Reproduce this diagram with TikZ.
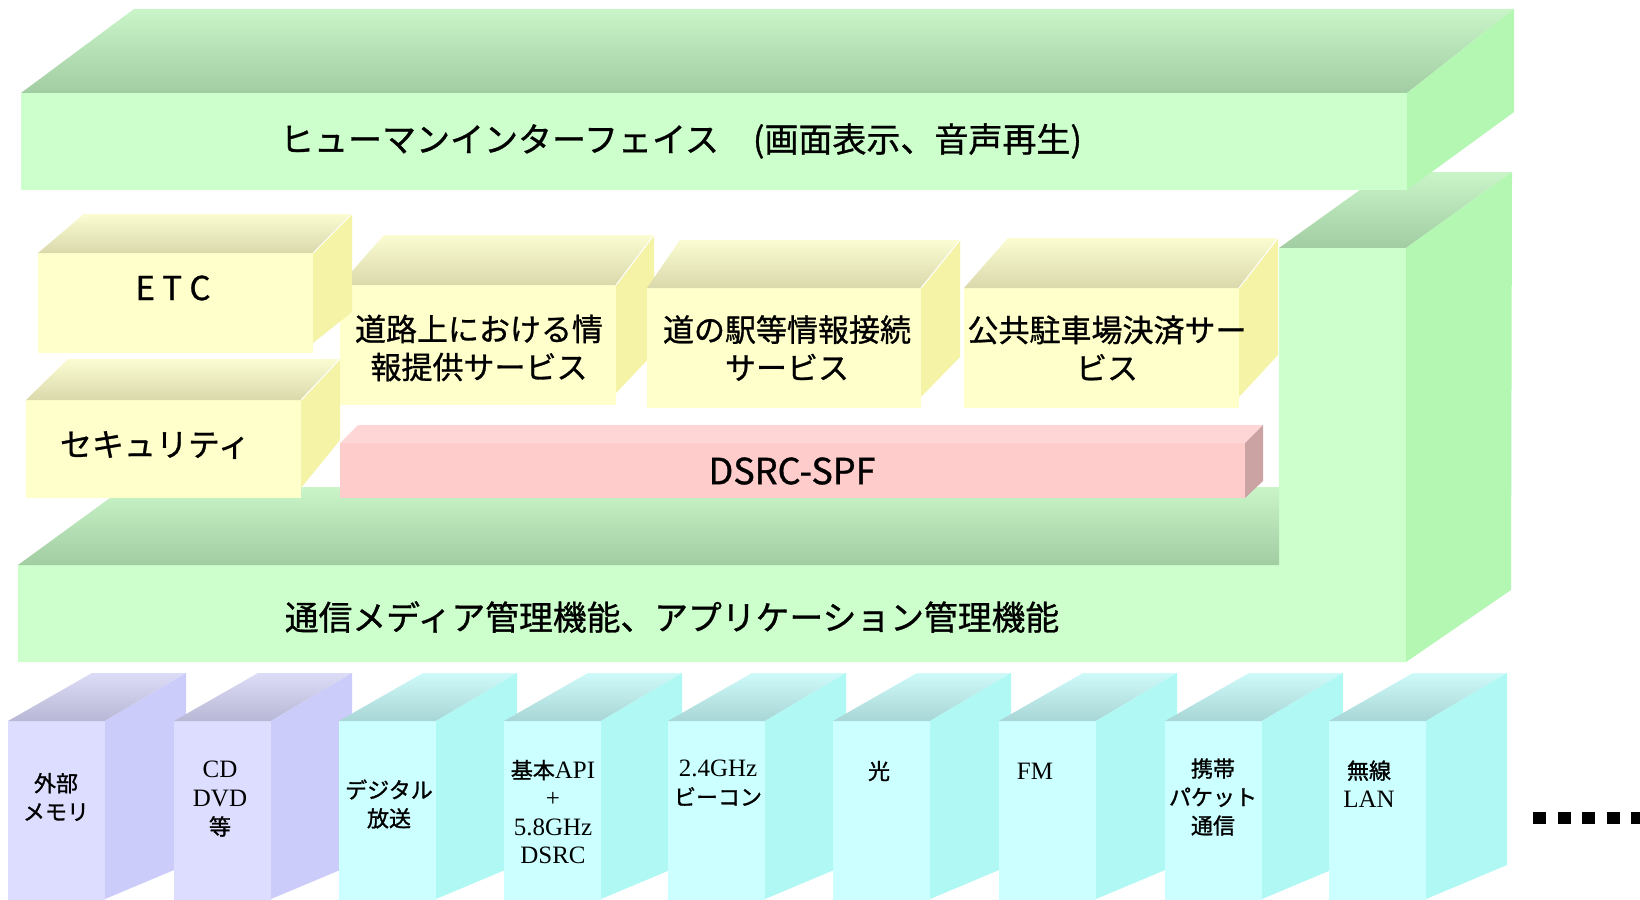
\documentclass[tikz,border=0pt]{standalone}
\usepackage{fontspec}
\newfontfamily\jp{Noto Sans CJK JP}[FakeBold=0.9]
\newfontfamily\jpb{Noto Sans CJK JP}[FakeBold=1.2]
\newfontfamily\tms{Liberation Serif}
\definecolor{gF}{HTML}{CCFFCC}
\definecolor{gS}{HTML}{B3F7B3}
\definecolor{gTF}{HTML}{A2CCA2}
\definecolor{gTB}{HTML}{C9F5C9}
\definecolor{yF}{HTML}{FFFFCC}
\definecolor{yS}{HTML}{F5F3A6}
\definecolor{yTF}{HTML}{D9D9AC}
\definecolor{yTB}{HTML}{FCFCD2}
\definecolor{pF}{HTML}{FFCCCC}
\definecolor{pT}{HTML}{FFD6D6}
\definecolor{pS}{HTML}{CCA3A3}
\definecolor{lF}{HTML}{DDDDFF}
\definecolor{lS}{HTML}{CCCCFA}
\definecolor{lTF}{HTML}{B8B8D6}
\definecolor{lTB}{HTML}{DCDCF7}
\definecolor{cF}{HTML}{CCFFFF}
\definecolor{cS}{HTML}{B0F8F4}
\definecolor{cTF}{HTML}{A8D5D5}
\definecolor{cTB}{HTML}{CFFAFA}
\tikzset{
  gfront/.style={fill=gF}, gside/.style={fill=gS}, gtop/.style={top color=gTB, bottom color=gTF},
  yfront/.style={fill=yF}, yside/.style={fill=yS}, ytop/.style={top color=yTB, bottom color=yTF},
  pfront/.style={fill=pF}, pside/.style={fill=pS}, ptop/.style={fill=pT},
  Lfront/.style={fill=lF}, Lside/.style={fill=lS}, Ltop/.style={top color=lTB, bottom color=lTF},
  Cfront/.style={fill=cF}, Cside/.style={fill=cS}, Ctop/.style={top color=cTB, bottom color=cTF},
  edgehl/.style={white, line width=1pt},
  bigtext/.style={inner sep=0pt, font=\jp\fontsize{34}{40}\selectfont},
  boxtext/.style={inner sep=0pt, align=center, font=\jp\fontsize{31}{38}\selectfont},
  medtext/.style={inner sep=0pt, align=center, font=\jpb\fontsize{22}{28.5}\selectfont},
  dots/.style={line width=12pt, dash pattern=on 13pt off 11.5pt}
}
% #1 x, #2 palette
\newcommand{\mediacol}[2]{%
  \fill[#2front] (#1,721) rectangle ++(97,180);
  \shade[#2top] (#1,721) -- ++(97,0) -- ++(81,-48) -- ++(-94,0) -- cycle;
  \fill[#2side] (#1+97,721) -- (#1+178,673) -- (#1+178,865) -- (#1+97,899) -- cycle;
}
\newcommand{\lat}{\tms\fontsize{25}{28.5}\selectfont}
\begin{document}
\begin{tikzpicture}[x=1pt,y=-1pt]
\useasboundingbox (0,0) rectangle (1640,899);
\clip (0,0) rectangle (1640,899);
\fill[white] (0,0) rectangle (1640,899);

% ---- lower L-shaped slab ----
\shade[gtop] (1279,248) -- (1406,248) -- (1512,172) -- (1385,172) -- cycle;
\fill[gfront] (18,565) -- (1279,565) -- (1279,248) -- (1406,248) -- (1406,662) -- (18,662) -- cycle;
\fill[gside] (1406,248) -- (1512,172) -- (1511,590) -- (1406,662) -- cycle;
\shade[gtop] (18,565) -- (1279,565) -- (1279,487) -- (125,487) -- cycle;

% ---- top slab ----
\shade[gtop] (21,93) -- (1407,93) -- (1514,9) -- (134,9) -- cycle;
\fill[gfront] (21,93) rectangle (1407,190);
\fill[gside] (1407,93) -- (1514,9) -- (1514,112) -- (1407,190) -- cycle;

% ---- yellow boxes ----
% road info
\fill[yfront] (340,285) rectangle (616,405);
\shade[ytop] (340,285) -- (616,285) -- (654,235) -- (384,235) -- cycle;
\fill[yside] (616,285) -- (654,235) -- (654,353) -- (616,393) -- cycle;
\draw[edgehl] (616,285) -- (654,235);
% ETC
\fill[yfront] (38,253) rectangle (313,353);
\shade[ytop] (38,253) -- (313,253) -- (352,214) -- (84,214) -- cycle;
\fill[yside] (313,253) -- (352,214) -- (352,312) -- (313,343) -- cycle;
\draw[edgehl] (313,253) -- (352,214);
% michi-no-eki
\fill[yfront] (647,288) rectangle (921,408);
\shade[ytop] (647,288) -- (921,288) -- (960,240) -- (680,240) -- cycle;
\fill[yside] (921,288) -- (960,240) -- (960,357) -- (921,397) -- cycle;
\draw[edgehl] (921,288) -- (960,240);
% parking
\fill[yfront] (964,288) rectangle (1239,408);
\shade[ytop] (964,288) -- (1239,288) -- (1278,238) -- (1008,238) -- cycle;
\fill[yside] (1239,288) -- (1278,238) -- (1278,355) -- (1239,397) -- cycle;
\draw[edgehl] (1239,288) -- (1278,238);
% security
\fill[yfront] (26,400) rectangle (301,498);
\shade[ytop] (26,400) -- (301,400) -- (340,359) -- (68,359) -- cycle;
\fill[yside] (301,400) -- (340,359) -- (340,440) -- (301,488) -- cycle;
\draw[edgehl] (301,400) -- (340,359);

% ---- DSRC-SPF ----
\fill[pfront] (340,443) rectangle (1245,498);
\fill[ptop] (340,443) -- (1245,443) -- (1263,425) -- (358,425) -- cycle;
\fill[pside] (1245,443) -- (1263,425) -- (1263,481) -- (1245,498) -- cycle;

% ---- media columns ----
\mediacol{8}{L}
\mediacol{174}{L}
\mediacol{339}{C}
\mediacol{504}{C}
\mediacol{668}{C}
\mediacol{833}{C}
\mediacol{999}{C}
\mediacol{1165}{C}
\mediacol{1329}{C}

% ---- texts ----
\node[bigtext] (hmi) at (681,141) {ヒューマンインターフェイス　(画面表示、音声再生)};
\node[bigtext, font=\jp\fontsize{33.8}{40}\selectfont] (mgmt) at (672,617) {通信メディア管理機能、アプリケーション管理機能};
\node[boxtext, font=\jp\fontsize{33}{38}\selectfont] (etc) at (173,288) {E T C};
\node[boxtext, font=\jp\fontsize{32}{38}\selectfont] (sec) at (155,445) {セキュリティ};
\node[boxtext] (road) at (479,348) {道路上における情\\報提供サービス};
\node[boxtext] (eki) at (787,348) {道の駅等情報接続\\サービス};
\node[boxtext] (park) at (1107,348) {公共駐車場決済サー\\ビス};
\node[boxtext, font=\jp\fontsize{36}{40}\selectfont] (spf) at (792,471) {DSRC-SPF};

\node[medtext] (m1) at (56,797) {外部\\メモリ};
\node[medtext] (m2) at (220,799) {{\lat CD}\\{\lat DVD}\\等};
\node[medtext] (m3) at (389,804) {デジタル\\放送};
\node[medtext] (m4) at (553,812) {基本{\lat API}\\{\lat +}\\{\lat 5.8GHz}\\{\lat DSRC}};
\node[medtext] (m5) at (718,783) {{\lat 2.4GHz}\\ビーコン};
\node[medtext] (m6) at (879,771) {光};
\node[medtext, font=\lat] (m7) at (1035,771) {FM};
\node[medtext] (m8) at (1213,797) {携帯\\パケット\\通信};
\node[medtext] (m9) at (1369,784) {無線\\{\lat LAN}};

% ---- continuation mark ----
\coordinate (d1) at (1533,818);
\coordinate (d2) at (1646,818);
\draw[dots] (d1) -- (d2);
\end{tikzpicture}
\end{document}
